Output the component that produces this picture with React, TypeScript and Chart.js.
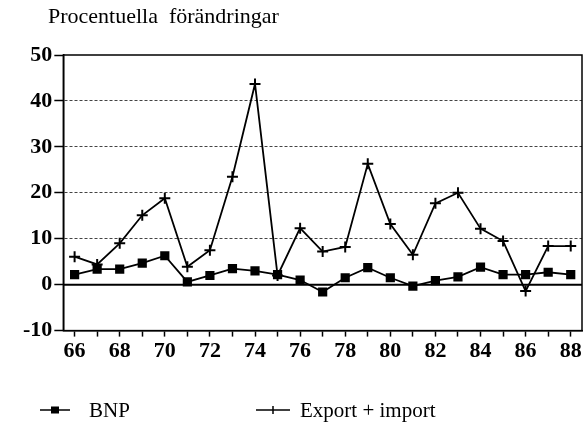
import React, { useEffect, useRef } from 'react';
import { Chart, registerables } from 'chart.js';

Chart.register(...registerables);

const titleText = 'Procentuella  förändringar';
const years = ['66', '67', '68', '69', '70', '71', '72', '73', '74', '75', '76', '77', '78', '79', '80', '81', '82', '83', '84', '85', '86', '87', '88'];
const bnp = [2.2, 3.4, 3.4, 4.7, 6.3, 0.6, 2.0, 3.5, 3.0, 2.2, 1.0, -1.6, 1.5, 3.7, 1.5, -0.3, 0.9, 1.7, 3.8, 2.2, 2.2, 2.7, 2.2];
const exportImport = [6.1, 4.4, 9.0, 15.1, 18.8, 3.9, 7.5, 23.5, 43.7, 2.0, 12.3, 7.2, 8.2, 26.3, 13.2, 6.5, 17.7, 20.0, 12.2, 9.5, -1.4, 8.4, 8.4];
const seriesLabels = ['BNP', 'Export + import'];
const yMin = -10;
const yMax = 50;
const yStep = 10;

const SERIF = '"Liberation Serif", "DejaVu Serif", serif';

const framePlugin = {
  id: 'frame',
  beforeDatasetsDraw(chart: any) {
    const { ctx, chartArea } = chart;
    const y = chart.scales.y;
    ctx.save();
    ctx.strokeStyle = '#000';
    ctx.lineWidth = 2;
    const y0 = y.getPixelForValue(0);
    ctx.beginPath();
    ctx.moveTo(chartArea.left, y0);
    ctx.lineTo(chartArea.right, y0);
    ctx.stroke();
    ctx.lineWidth = 1.5;
    ctx.strokeRect(chartArea.left, chartArea.top, chartArea.right - chartArea.left, chartArea.bottom - chartArea.top);
    ctx.restore();
  },
};

const legendPlugin = {
  id: 'bottomLegend',
  afterDraw(chart: any) {
    const { ctx } = chart;
    const items = [
      { x1: 40, x2: 70, text: 89, marker: 'rect' },
      { x1: 256, x2: 290, text: 300, marker: 'cross' },
    ];
    const yy = 410;
    ctx.save();
    ctx.strokeStyle = '#000';
    ctx.fillStyle = '#000';
    ctx.font = `21px ${SERIF}`;
    ctx.textBaseline = 'middle';
    chart.data.datasets.forEach((ds: any, i: number) => {
      const it = items[i];
      ctx.lineWidth = 1.5;
      ctx.beginPath();
      ctx.moveTo(it.x1, yy);
      ctx.lineTo(it.x2, yy);
      ctx.stroke();
      const cx = (it.x1 + it.x2) / 2;
      if (it.marker === 'rect') {
        ctx.fillRect(cx - 4, yy - 3.5, 8, 7);
      } else {
        ctx.beginPath();
        ctx.moveTo(cx, yy - 4);
        ctx.lineTo(cx, yy + 4);
        ctx.stroke();
      }
      ctx.fillText(ds.label, it.text, yy + 1);
    });
    ctx.restore();
  },
};

export default function App() {
  const ref = useRef<HTMLCanvasElement>(null);
  useEffect(() => {
    if (!ref.current) return;
    const chart = new Chart(ref.current, {
      type: 'line',
      data: {
        labels: years,
        datasets: [
          {
            label: seriesLabels[0],
            data: bnp,
            borderColor: '#000',
            backgroundColor: '#000',
            borderWidth: 1.8,
            pointStyle: 'rect',
            pointRadius: 6.5,
            pointBorderWidth: 0,
            pointBackgroundColor: '#000',
            tension: 0,
          },
          {
            label: seriesLabels[1],
            data: exportImport,
            borderColor: '#000',
            backgroundColor: '#000',
            borderWidth: 1.8,
            pointStyle: 'cross',
            pointRadius: 5.5,
            pointBorderWidth: 2,
            pointBorderColor: '#000',
            tension: 0,
          },
        ],
      },
      options: {
        animation: false,
        responsive: false,
        maintainAspectRatio: false,
        layout: { autoPadding: false, padding: { left: 21, right: 3, top: 55, bottom: 63 } },
        plugins: {
          legend: { display: false },
          title: { display: false },
          tooltip: { enabled: false },
        },
        scales: {
          x: {
            type: 'category',
            offset: true,
            afterFit: (s: any) => {
              s.paddingLeft = 0;
              s.paddingRight = 0;
            },
            grid: {
              display: true,
              drawOnChartArea: false,
              drawTicks: true,
              tickLength: 6,
              tickColor: '#000',
              tickWidth: 1.5,
              offset: false,
            },
            border: { display: true, color: '#000', width: 1.5 },
            ticks: {
              autoSkip: false,
              maxRotation: 0,
              minRotation: 0,
              padding: 2,
              color: '#000',
              font: { family: SERIF, size: 22, weight: 'bold' },
              callback: (_v: any, i: number) => (i % 2 === 0 ? years[i] : ''),
            },
          },
          y: {
            min: yMin,
            max: yMax,
            afterFit: (s: any) => {
              s.paddingTop = 0;
              s.paddingBottom = 0;
            },
            grid: {
              display: true,
              drawOnChartArea: true,
              drawTicks: true,
              tickLength: 9,
              tickColor: '#000',
              tickWidth: 1.5,
              lineWidth: 1,
              color: (c: any) => {
                const v = c.tick && c.tick.value;
                return v === 0 || v === yMin || v === yMax ? 'rgba(0,0,0,0)' : '#444';
              },
            },
            border: { display: true, color: '#000', width: 1.5, dash: [3, 2] },
            ticks: {
              stepSize: yStep,
              padding: 2,
              color: '#000',
              font: { family: SERIF, size: 22, weight: 'bold' },
            },
          },
        },
      },
      plugins: [framePlugin, legendPlugin],
    } as any);
    return () => chart.destroy();
  }, []);
  return (
    <div style={{ position: 'absolute', left: 0, top: 0, width: 585, height: 430, background: '#fff' }}>
      <canvas ref={ref} width={585} height={430} style={{ display: 'block' }} />
      <div
        style={{
          position: 'absolute',
          left: 48,
          top: 3,
          fontFamily: SERIF,
          fontSize: 22,
          whiteSpace: 'pre',
          color: '#000',
        }}
      >
        {titleText}
      </div>
    </div>
  );
}
